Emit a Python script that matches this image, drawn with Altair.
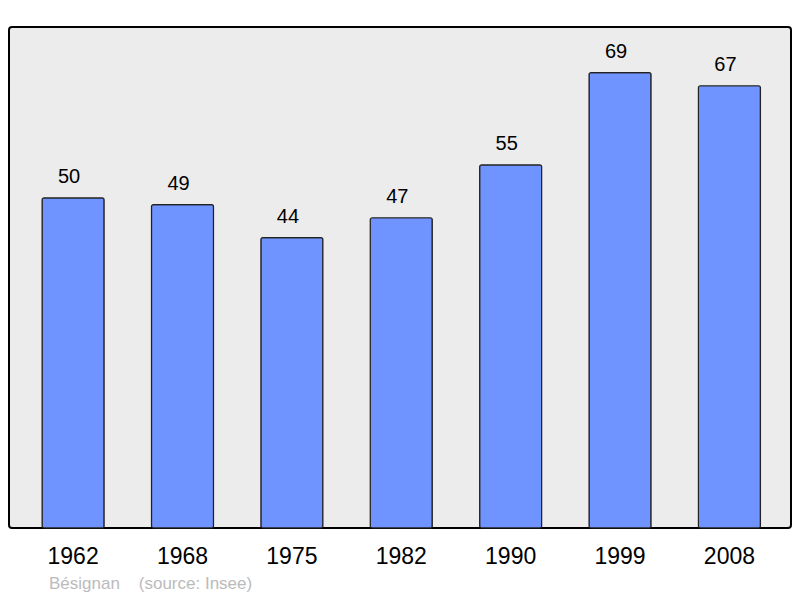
import altair as alt
import pandas as pd

years = ["1962", "1968", "1975", "1982", "1990", "1999", "2008"]
population = [50, 49, 44, 47, 55, 69, 67]
caption = "Bésignan\u00a0\u00a0\u00a0\u00a0(source: Insee)"

df = pd.DataFrame({"year": years, "pop": population})

FONT = "Liberation Sans"

x = alt.X("year:N", sort=years,
          scale=alt.Scale(paddingInner=0.433, paddingOuter=0.291, align=0.52),
          axis=alt.Axis(title=None, labelAngle=0, ticks=False, domain=False,
                        labelFontSize=23, labelFont=FONT, labelColor="#000",
                        labelPadding=17))
y = alt.Y("pop:Q", scale=alt.Scale(domain=[0, 75.9], nice=False, zero=True),
          axis=None)

bars = alt.Chart(df).mark_bar(
    color="#7094ff", stroke="#222222", strokeWidth=1.2, cornerRadius=2
).encode(x=x, y=y)

labels = alt.Chart(df).mark_text(
    baseline="bottom", dy=-11, dx=-4, fontSize=20, font=FONT, color="#000"
).encode(x=x, y=y, text="pop:Q")

cap = alt.Chart(pd.DataFrame({"t": [caption]})).mark_text(
    align="left", baseline="alphabetic", fontSize=17, font=FONT, color="#bbbbbb"
).encode(x=alt.value(40), y=alt.value(562), text="t:N")

chart = alt.layer(bars, labels, cap).properties(
    width=782, height=501,
    padding={"left": 1, "top": 19, "right": 1, "bottom": 70},
    autosize=alt.AutoSizeParams(type="none"),
).configure_view(
    fill="#ececec", stroke="#000000", strokeWidth=2, cornerRadius=3
)

chart.save("out.html", embed_options={"renderer": "svg", "actions": False})
